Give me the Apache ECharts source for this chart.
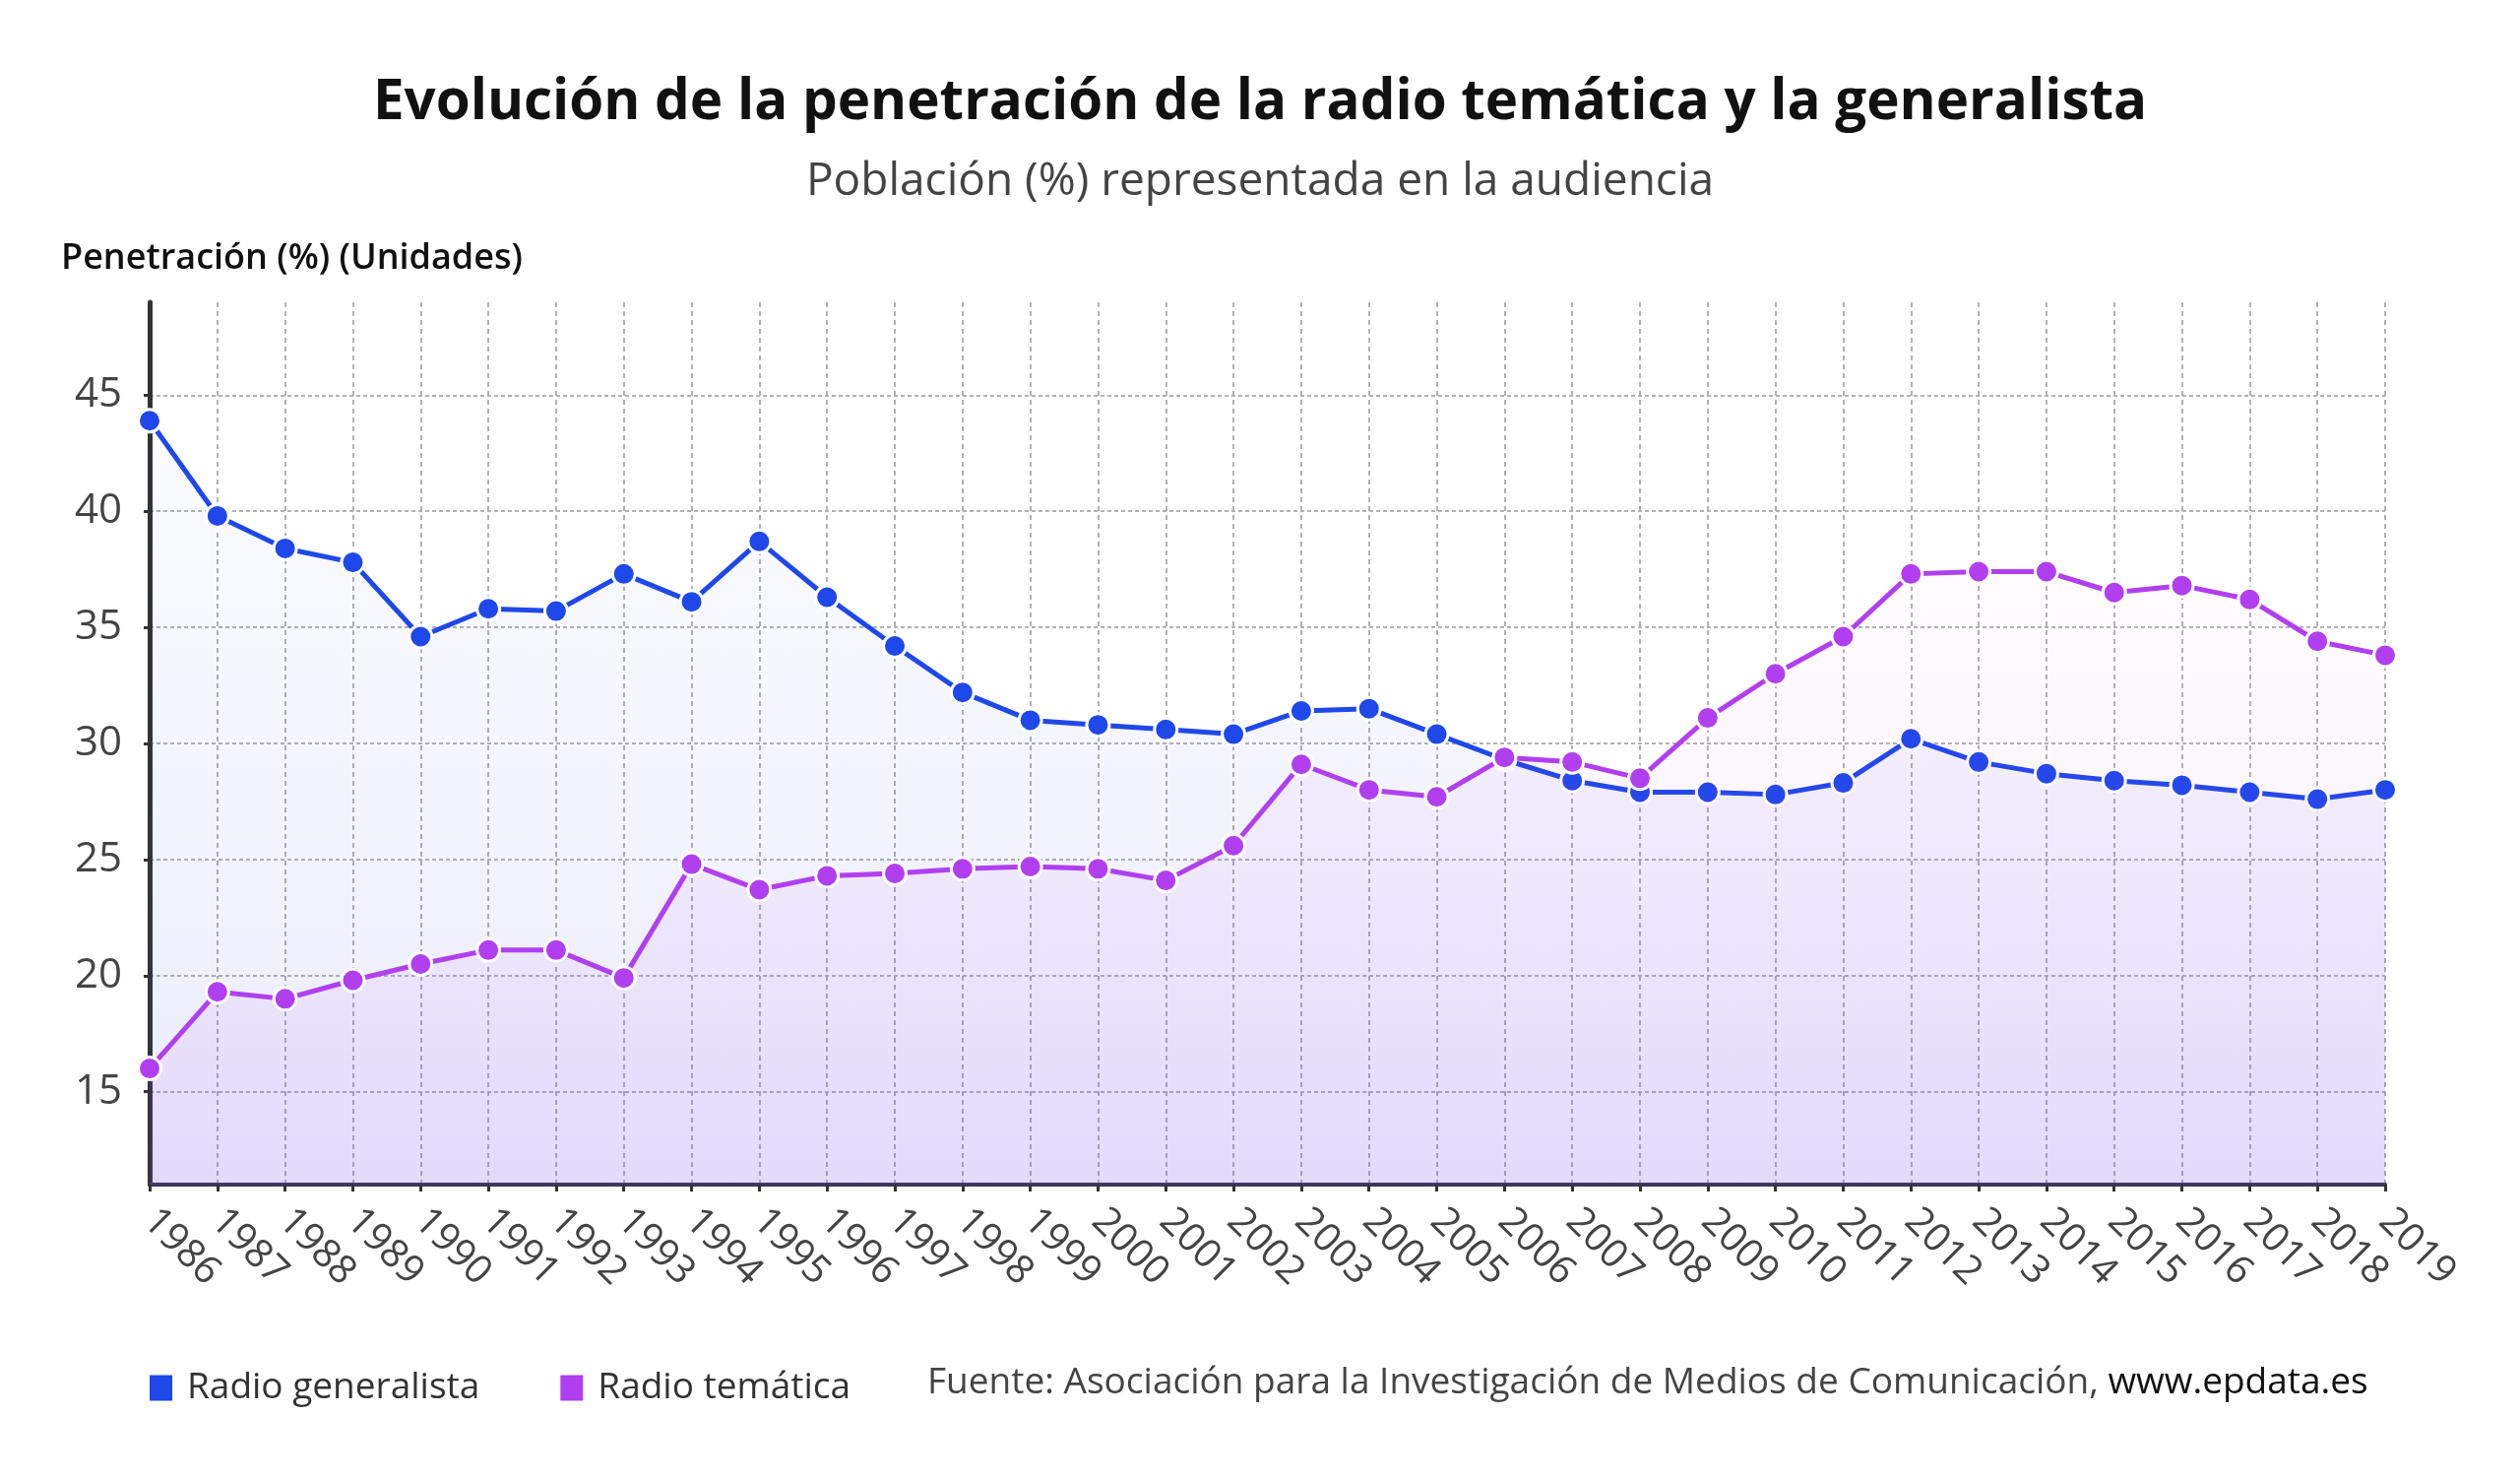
<!DOCTYPE html>
<html>
<head>
<meta charset="utf-8">
<title>Evolución de la penetración de la radio</title>
<script src="https://cdn.jsdelivr.net/npm/echarts@6/dist/echarts.min.js"></script>
<style>
  html, body { margin: 0; padding: 0; background: #fff; }
  #main { width: 2560px; height: 1503px; }
</style>
</head>
<body>
<div id="main"></div>
<script>
var years = ['1986','1987','1988','1989','1990','1991','1992','1993','1994','1995','1996','1997',
    '1998','1999','2000','2001','2002','2003','2004','2005','2006','2007','2008','2009','2010',
    '2011','2012','2013','2014','2015','2016','2017','2018','2019'];

var generalista = [43.9, 39.8, 38.4, 37.8, 34.6, 35.8, 35.7, 37.3, 36.1, 38.7, 36.3, 34.2,
    32.2, 31.0, 30.8, 30.6, 30.4, 31.4, 31.5, 30.4, 29.3, 28.4, 27.9, 27.9, 27.8,
    28.3, 30.2, 29.2, 28.7, 28.4, 28.2, 27.9, 27.6, 28.0];

var tematica = [16.0, 19.3, 19.0, 19.8, 20.5, 21.1, 21.1, 19.9, 24.8, 23.7, 24.3, 24.4,
    24.6, 24.7, 24.6, 24.1, 25.6, 29.1, 28.0, 27.7, 29.4, 29.2, 28.5, 31.1, 33.0,
    34.6, 37.3, 37.4, 37.4, 36.5, 36.8, 36.2, 34.4, 33.8];

var yTicks = [15, 20, 25, 30, 35, 40, 45];

var blue = '#1e48ea';
var purple = '#b13ff0';
var font = 'Open Sans';

var dom = document.getElementById('main');
var myChart = echarts.init(dom, null, {renderer: 'canvas'});

function grad(c0, c1) {
    return new echarts.graphic.LinearGradient(0, 0, 0, 1, [
        {offset: 0, color: c0},
        {offset: 1, color: c1}
    ]);
}

var option = {
    backgroundColor: '#fff',
    animation: false,
    textStyle: {fontFamily: font},
    title: [
        {
            text: 'Evolución de la penetración de la radio temática y la generalista',
            left: 'center',
            top: 76,
            padding: 0,
            textStyle: {fontFamily: font, fontSize: 56.5, fontWeight: 'bold', color: '#111'}
        },
        {
            text: 'Población (%) representada en la audiencia',
            left: 'center',
            top: 162,
            padding: 0,
            textStyle: {fontFamily: font, fontSize: 46, fontWeight: 'normal', color: '#444'}
        },
        {
            text: 'Penetración (%) (Unidades)',
            left: 62,
            top: 245,
            padding: 0,
            textStyle: {fontFamily: font, fontSize: 36, fontWeight: 600, color: '#111'}
        }
    ],
    legend: {
        left: 152,
        top: 1391,
        padding: 0,
        itemWidth: 23,
        itemHeight: 26,
        itemGap: 82,
        icon: 'rect',
        symbolKeepAspect: false,
        itemStyle: {borderWidth: 0},
        textStyle: {fontFamily: font, fontSize: 37, color: '#333', padding: [0, 0, 0, 10]},
        data: ['Radio generalista', 'Radio temática']
    },
    graphic: [
        {
            type: 'text',
            left: 942,
            top: 1386,
            style: {
                text: '{a|Fuente: Asociación para la Investigación de Medios de Comunicación, }{b|www.epdata.es}',
                rich: {
                    a: {fontFamily: font, fontSize: 37, fill: '#444'},
                    b: {fontFamily: font, fontSize: 37, fill: '#111'}
                }
            }
        }
    ],
    grid: {
        left: 152,
        right: 137,
        top: 307,
        bottom: 300,
        containLabel: false,
        outerBoundsMode: 'none'
    },
    xAxis: {
        type: 'category',
        boundaryGap: false,
        data: years,
        axisLine: {show: true, lineStyle: {color: '#3a3550', width: 4}},
        axisTick: {show: true, length: 7, lineStyle: {color: '#333', width: 3}},
        axisLabel: {
            interval: 0,
            rotate: -45,
            margin: 31,
            fontFamily: font,
            fontSize: 40,
            color: '#444'
        },
        splitLine: {show: true, lineStyle: {color: '#b2b2b2', width: 2, type: [5, 4]}}
    },
    yAxis: {
        type: 'value',
        min: 11,
        max: 49,
        axisLine: {show: true, lineStyle: {color: '#333', width: 5}},
        axisTick: {show: true, length: 6, customValues: yTicks, lineStyle: {color: '#333', width: 3}},
        axisLabel: {
            customValues: yTicks,
            margin: 28,
            fontFamily: font,
            fontSize: 42,
            color: '#444'
        },
        splitLine: {show: true, lineStyle: {color: '#b2b2b2', width: 2, type: [4, 3]}}
    },
    series: [
        {
            name: 'Radio generalista',
            type: 'line',
            data: generalista,
            color: blue,
            symbol: 'circle',
            symbolSize: 23,
            lineStyle: {width: 5, color: blue},
            itemStyle: {color: blue, borderColor: '#fff', borderWidth: 3},
            areaStyle: {color: grad('rgba(30,72,234,0.02)', 'rgba(60,72,234,0.15)')},
            z: 3
        },
        {
            name: 'Radio temática',
            type: 'line',
            data: tematica,
            color: purple,
            symbol: 'circle',
            symbolSize: 23,
            lineStyle: {width: 5, color: purple},
            itemStyle: {color: purple, borderColor: '#fff', borderWidth: 3},
            areaStyle: {color: grad('rgba(230,63,240,0.02)', 'rgba(150,70,240,0.15)')},
            z: 4
        }
    ]
};

if (option && typeof option === 'object') {
    myChart.setOption(option, true);
}
</script>
</body>
</html>
